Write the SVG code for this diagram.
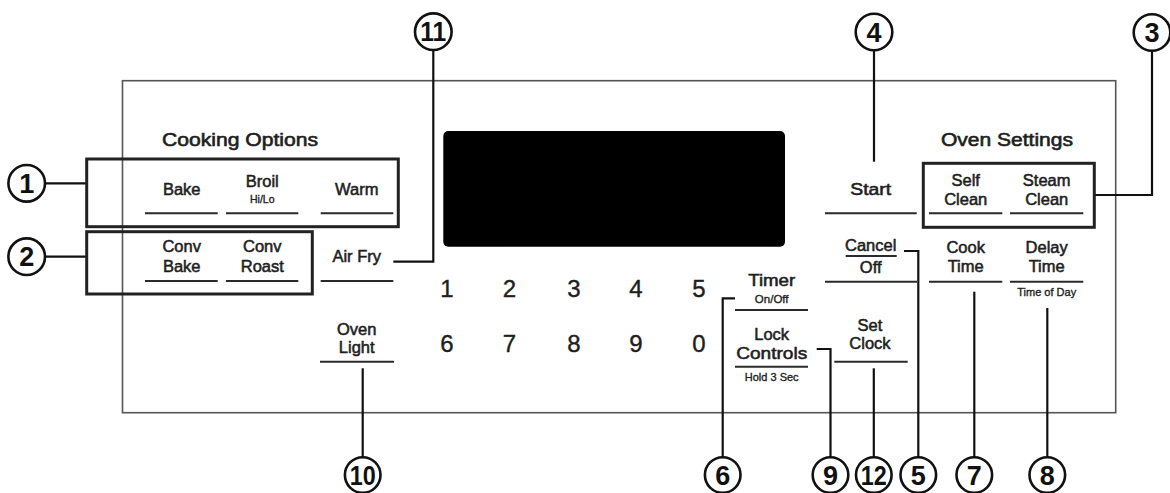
<svg xmlns="http://www.w3.org/2000/svg" width="1170" height="493" viewBox="0 0 1170 493">
<style>
  text { font-family: "Liberation Sans", Arial, sans-serif; fill: #1e1e1e; text-anchor: middle; }
  .lbl { font-size: 16.5px; font-weight: normal; stroke: #1e1e1e; stroke-width: 0.55; }
  .hd { font-size: 18px; font-weight: normal; stroke: #1e1e1e; stroke-width: 0.6; }
  .sm { font-size: 11px; font-weight: normal; stroke: #1e1e1e; stroke-width: 0.35; }
  .dg { font-size: 24px; font-weight: normal; stroke: #1e1e1e; stroke-width: 0.4; }
  .num { font-size: 27px; font-weight: bold; fill: #111; }
  .ul { stroke: #2a2a2a; stroke-width: 2; fill: none; }
  .grp { stroke: #222; stroke-width: 3; fill: none; }
  .con { stroke: #111; stroke-width: 2.2; fill: none; }
  .cir { stroke: #111; stroke-width: 2.6; fill: #fff; }
</style>
<rect width="1170" height="493" fill="#fff"/>
<!-- panel -->
<rect id="panel" x="122.5" y="80.7" width="993.2" height="332" fill="none" stroke="#555" stroke-width="1.6"/>
<rect id="display" x="443.3" y="131" width="341.7" height="115.7" rx="5" fill="#000"/>

<g id="connectors">
  <path class="con" d="M45 183.3H86.7"/>
  <path class="con" d="M45 256.7H86.7"/>
  <path class="con" d="M1152 50V195H1094.3"/>
  <path class="con" d="M874 50V161.7"/>
  <path class="con" d="M433.3 50V261.7H393.3"/>
  <path class="con" d="M362.7 368.3V457"/>
  <path class="con" d="M735 298.3H722.7V457"/>
  <path class="con" d="M816.7 349H830.5V457"/>
  <path class="con" d="M873.8 368.3V457"/>
  <path class="con" d="M904 251H918.3V457"/>
  <path class="con" d="M974.3 291.7V457"/>
  <path class="con" d="M1047.3 308V457"/>
</g>

<g id="group-cooking">
  <text class="hd" x="240" y="146" textLength="156" lengthAdjust="spacingAndGlyphs">Cooking Options</text>
  <rect class="grp" x="86.7" y="159" width="311.6" height="67.7"/>
  <rect class="grp" x="86.7" y="231.7" width="225.6" height="62.3"/>
</g>
<g id="group-oven">
  <text class="hd" x="1007" y="146" textLength="132" lengthAdjust="spacingAndGlyphs">Oven Settings</text>
  <rect class="grp" x="923.3" y="163.3" width="171" height="64"/>
</g>

<g id="btn-bake"><text class="lbl" x="181.7" y="195">Bake</text><path class="ul" d="M145 213.3H217.7"/></g>
<g id="btn-broil"><text class="lbl" x="262.3" y="186.7">Broil</text><text class="sm" x="262.3" y="203.3" style="font-size:10.5px">Hi/Lo</text><path class="ul" d="M226 213.3H298.3"/></g>
<g id="btn-warm"><text class="lbl" x="356.7" y="195">Warm</text><path class="ul" d="M320.7 213.3H393.3"/></g>
<g id="btn-convbake"><text class="lbl" x="181.7" y="251.7">Conv</text><text class="lbl" x="181.7" y="271.7">Bake</text><path class="ul" d="M145 281H217.7"/></g>
<g id="btn-convroast"><text class="lbl" x="262.3" y="251.7">Conv</text><text class="lbl" x="262.3" y="271.7">Roast</text><path class="ul" d="M226 281H298.3"/></g>
<g id="btn-airfry"><text class="lbl" x="356.7" y="261.7">Air Fry</text><path class="ul" d="M320.7 281H393.3"/></g>
<g id="btn-ovenlight"><text class="lbl" x="356.7" y="335">Oven</text><text class="lbl" x="356.7" y="353.3">Light</text><path class="ul" d="M320 361.7H394"/></g>

<g id="keypad">
  <text class="dg" x="447" y="297">1</text>
  <text class="dg" x="509.5" y="297">2</text>
  <text class="dg" x="574" y="297">3</text>
  <text class="dg" x="636" y="297">4</text>
  <text class="dg" x="699" y="297">5</text>
  <text class="dg" x="447" y="352">6</text>
  <text class="dg" x="509.5" y="352">7</text>
  <text class="dg" x="574" y="352">8</text>
  <text class="dg" x="636" y="352">9</text>
  <text class="dg" x="699" y="352">0</text>
</g>

<g id="btn-timer"><text class="lbl" x="771.7" y="285.7" textLength="47" lengthAdjust="spacingAndGlyphs">Timer</text><text class="sm" x="771.7" y="302.7" style="font-size:11.5px">On/Off</text><path class="ul" d="M735 310H808"/></g>
<g id="btn-lock"><text class="lbl" x="771.7" y="340">Lock</text><text class="lbl" x="771.7" y="359.3" textLength="71" lengthAdjust="spacingAndGlyphs">Controls</text><path class="ul" d="M735 366.7H808"/><text class="sm" x="771.7" y="381">Hold 3 Sec</text></g>
<g id="btn-start"><text class="lbl" x="870.7" y="195" textLength="41" lengthAdjust="spacingAndGlyphs">Start</text><path class="ul" d="M825 213.3H916.7"/></g>
<g id="btn-cancel"><text class="lbl" x="870.7" y="251">Cancel</text><path class="ul" d="M845.7 256H896.7"/><text class="lbl" x="870.7" y="272.7">Off</text><path class="ul" d="M825 281.7H917"/></g>
<g id="btn-setclock"><text class="lbl" x="870" y="330.7">Set</text><text class="lbl" x="870" y="349.3">Clock</text><path class="ul" d="M834.3 361.7H907.7"/></g>
<g id="btn-selfclean"><text class="lbl" x="965.7" y="185.7">Self</text><text class="lbl" x="965.7" y="205">Clean</text><path class="ul" d="M929 213.3H1002.3"/></g>
<g id="btn-steamclean"><text class="lbl" x="1046.7" y="185.7">Steam</text><text class="lbl" x="1046.7" y="205">Clean</text><path class="ul" d="M1010 213.3H1083.3"/></g>
<g id="btn-cooktime"><text class="lbl" x="965.7" y="252.7">Cook</text><text class="lbl" x="965.7" y="271.7">Time</text><path class="ul" d="M929 281.7H1002.3"/></g>
<g id="btn-delaytime"><text class="lbl" x="1046.7" y="252.7">Delay</text><text class="lbl" x="1046.7" y="271.7">Time</text><path class="ul" d="M1010 281.7H1083.3"/><text class="sm" x="1046.7" y="295.7">Time of Day</text></g>

<g id="callout-1"><circle class="cir" cx="26.7" cy="183.3" r="18.3"/><text class="num" x="26.7" y="193">1</text></g>
<g id="callout-2"><circle class="cir" cx="26.7" cy="256.7" r="18.3"/><text class="num" x="26.7" y="266.4">2</text></g>
<g id="callout-3"><circle class="cir" cx="1152" cy="32.5" r="18.3"/><text class="num" x="1152" y="42.2">3</text></g>
<g id="callout-4"><circle class="cir" cx="874" cy="32" r="18.3"/><text class="num" x="874" y="41.7">4</text></g>
<g id="callout-11"><circle class="cir" cx="433.3" cy="31.7" r="18.3"/><text class="num" x="433.3" y="41.4" textLength="26" lengthAdjust="spacingAndGlyphs">11</text></g>
<g id="callout-10"><circle class="cir" cx="362.7" cy="475" r="17.8"/><text class="num" x="362.7" y="484.7" textLength="26" lengthAdjust="spacingAndGlyphs">10</text></g>
<g id="callout-6"><circle class="cir" cx="722.7" cy="475" r="17.8"/><text class="num" x="722.7" y="484.7">6</text></g>
<g id="callout-9"><circle class="cir" cx="830.5" cy="475" r="17.8"/><text class="num" x="830.5" y="484.7">9</text></g>
<g id="callout-12"><circle class="cir" cx="873.8" cy="475" r="17.8"/><text class="num" x="873.8" y="484.7" textLength="26" lengthAdjust="spacingAndGlyphs">12</text></g>
<g id="callout-5"><circle class="cir" cx="918.3" cy="475" r="17.8"/><text class="num" x="918.3" y="484.7">5</text></g>
<g id="callout-7"><circle class="cir" cx="974.3" cy="475" r="17.8"/><text class="num" x="974.3" y="484.7">7</text></g>
<g id="callout-8"><circle class="cir" cx="1047.3" cy="475" r="17.8"/><text class="num" x="1047.3" y="484.7">8</text></g>
</svg>
